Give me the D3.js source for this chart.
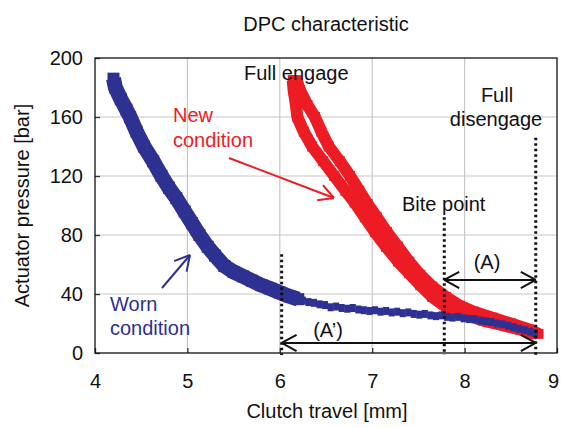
<!DOCTYPE html>
<html>
<head>
<meta charset="utf-8">
<script src="https://cdn.jsdelivr.net/npm/d3@7"></script>
<style>
  body { margin: 0; background: #fff; }
  text { font-family: "Liberation Sans", Arial, sans-serif; }
</style>
</head>
<body>
<script>
// axis ticks
var xTicks = [4, 5, 6, 7, 8, 9];
var yTicks = [0, 40, 80, 120, 160, 200];

// worn condition, steep part (clutch travel mm, pressure bar)
var wornX = [4.20, 4.22, 4.28, 4.34, 4.38, 4.45, 4.53, 4.63, 4.72, 4.80, 4.88, 4.97, 5.05, 5.13, 5.22, 5.30, 5.40, 5.50, 5.60, 5.70, 5.80, 5.90, 6.00, 6.10, 6.20];
var wornP = [186, 180, 172, 165, 160, 150, 140, 130, 120, 112, 105, 96, 88, 80, 72, 66, 59, 55, 52, 49, 46, 43.5, 41, 38.5, 36.5];

// worn condition, flat tail (single samples)
var wornTailX = [6.25, 6.31, 6.37, 6.43, 6.49, 6.55, 6.61, 6.67, 6.73, 6.79, 6.85, 6.91, 6.97, 7.03, 7.09, 7.15, 7.21, 7.27, 7.33, 7.39, 7.45, 7.51, 7.57, 7.63, 7.69, 7.75, 7.81, 7.87, 7.93, 7.99, 8.05, 8.11, 8.17, 8.23, 8.29, 8.35, 8.41, 8.47, 8.53, 8.59, 8.65, 8.71, 8.76];
var wornTailP = [35.5, 34.5, 34, 33, 32.5, 31, 31.5, 30.5, 30, 30.5, 29.5, 29, 28.5, 29, 28, 28.5, 27.5, 28, 27, 27.5, 26.5, 26, 26.5, 25.5, 25, 25.5, 24.5, 24, 24.5, 23.5, 23, 23, 22, 21.5, 21, 20, 19.5, 18.5, 17.5, 16.5, 15.5, 14.5, 13.5];

// new condition, two branches
var newAX = [6.14, 6.15, 6.17, 6.19, 6.26, 6.35, 6.47, 6.59, 6.71, 6.81, 6.92, 7.03, 7.15, 7.28, 7.40, 7.52, 7.65, 7.80, 8.00, 8.20, 8.40, 8.60, 8.76];
var newAP = [185, 178, 170, 160, 150, 140, 130, 120, 110, 102, 92, 82, 72, 62, 54, 46, 38, 31, 26, 22, 19, 16, 13];
var newBX = [6.18, 6.22, 6.30, 6.38, 6.45, 6.53, 6.65, 6.76, 6.86, 6.95, 7.05, 7.16, 7.28, 7.40, 7.52, 7.65, 7.80, 7.95, 8.10, 8.30, 8.50, 8.70, 8.80];
var newBP = [185, 178, 168, 160, 150, 140, 130, 120, 110, 101, 92, 82, 72, 62, 53, 45, 38, 32, 28, 24, 20, 16, 13];

// marker positions on the travel axis
var dotX = [6.02, 7.78, 8.77];
var dotTop = [67, 92, 146];

var blue = "#2e3192", red = "#ed1c24";

var margin = {top: 58, right: 4, bottom: 75, left: 95},
    width = 561 - margin.left - margin.right,
    height = 428 - margin.top - margin.bottom;

var svg = d3.select("body").append("svg")
    .attr("width", 561)
    .attr("height", 428);

var g = svg.append("g")
    .attr("transform", "translate(" + margin.left + "," + margin.top + ")");

var x = d3.scaleLinear().domain([4, 9]).range([0, width]);
var y = d3.scaleLinear().domain([0, 200]).range([height, 0]);

// grid
g.selectAll("line.gx").data(xTicks.slice(1, -1)).enter().append("line")
    .attr("x1", function(d) { return x(d); }).attr("x2", function(d) { return x(d); })
    .attr("y1", 0).attr("y2", height)
    .style("stroke", "#c8c8c8").style("stroke-width", 1.2);
g.selectAll("line.gy").data(yTicks.slice(1, -1)).enter().append("line")
    .attr("y1", function(d) { return y(d); }).attr("y2", function(d) { return y(d); })
    .attr("x1", 0).attr("x2", width)
    .style("stroke", "#c8c8c8").style("stroke-width", 1.2);

// axes
var xAxis = g.append("g")
    .attr("transform", "translate(0," + height + ")")
    .call(d3.axisBottom(x).tickValues(xTicks).tickSize(-5).tickPadding(21).tickFormat(d3.format("d")));
var yAxis = g.append("g")
    .call(d3.axisLeft(y).tickValues(yTicks).tickSize(-5).tickPadding(12).tickFormat(d3.format("d")));
[xAxis, yAxis].forEach(function(a) {
  a.select(".domain").remove();
  a.selectAll("text").style("font-size", "20px").style("fill", "#111")
    .style("font-family", "'Liberation Sans', Arial, sans-serif");
  a.selectAll("line").style("stroke", "#333").style("stroke-width", 1.3);
});
// last label sits at the page edge
xAxis.selectAll("text").filter(function(d) { return d === 9; }).attr("dx", -4);

var line = d3.line()
    .x(function(d) { return x(d[0]); })
    .y(function(d) { return y(d[1]); });

function zip(a, b) { return a.map(function(v, i) { return [v, b[i]]; }); }

var newA = zip(newAX, newAP), newB = zip(newBX, newBP);
var worn = zip(wornX, wornP), wornTail = zip(wornTailX, wornTailP);

// new condition bands
[newA, newB].forEach(function(s) {
  g.append("path").attr("d", line(s))
    .style("fill", "none").style("stroke", red)
    .style("stroke-width", 12).style("stroke-linejoin", "round");
  g.selectAll(null).data(s).enter().append("rect")
    .attr("x", function(d) { return x(d[0]) - 5; })
    .attr("y", function(d) { return y(d[1]) - 5; })
    .attr("width", 10).attr("height", 10)
    .style("fill", red);
});

// worn condition
g.append("path").attr("d", line(worn))
  .style("fill", "none").style("stroke", blue)
  .style("stroke-width", 15).style("stroke-linejoin", "round");
g.selectAll(null).data(worn).enter().append("rect")
  .attr("x", function(d) { return x(d[0]) - 6; })
  .attr("y", function(d) { return y(d[1]) - 6; })
  .attr("width", 12).attr("height", 12)
  .style("fill", blue);
g.selectAll(null).data(wornTail).enter().append("rect")
  .attr("x", function(d) { return x(d[0]) - 3; })
  .attr("y", function(d) { return y(d[1]) - 4; })
  .attr("width", 6).attr("height", 8)
  .style("fill", blue);

// frame
g.append("rect").attr("width", width).attr("height", height)
  .style("fill", "none").style("stroke", "#111").style("stroke-width", 1.3);

// dotted verticals
dotX.forEach(function(d, i) {
  g.append("line")
    .attr("x1", x(d)).attr("x2", x(d))
    .attr("y1", y(dotTop[i])).attr("y2", height + 2)
    .style("stroke", "#111").style("stroke-width", 3)
    .style("stroke-dasharray", "2.5,3");
});

// arrows
function head(tx, ty, ang, len, spread, color) {
  var p = [];
  [-spread, spread].forEach(function(s) {
    p.push("M" + (tx - len * Math.cos(ang - s)) + "," + (ty - len * Math.sin(ang - s)) + "L" + tx + "," + ty);
  });
  g.append("path").attr("d", p.join(""))
    .style("fill", "none").style("stroke", color).style("stroke-width", 2);
}
function arrow(x1, y1, x2, y2, color, both) {
  g.append("line").attr("x1", x1).attr("y1", y1).attr("x2", x2).attr("y2", y2)
    .style("stroke", color).style("stroke-width", 2);
  var a = Math.atan2(y2 - y1, x2 - x1);
  head(x2, y2, a, 17, 0.5, color);
  if (both) head(x1, y1, a + Math.PI, 17, 0.5, color);
}
arrow(x(dotX[1]), y(49.5), x(dotX[2]), y(49.5), "#111", true);
arrow(x(dotX[0]), y(6.8), x(dotX[2]), y(6.8), "#111", true);
arrow(229 - margin.left, 158 - margin.top, 334 - margin.left, 198 - margin.top, red, false);
arrow(162 - margin.left, 288 - margin.top, 190 - margin.left, 255 - margin.top, blue, false);

// labels
function label(t, px, py, color, anchor) {
  svg.append("text").attr("x", px).attr("y", py)
    .attr("text-anchor", anchor || "start")
    .style("font-size", "20px").style("fill", color || "#111")
    .text(t);
}
label("DPC characteristic", 326, 31, "#111", "middle");
label("Clutch travel [mm]", 327, 418, "#111", "middle");
svg.append("text")
  .attr("transform", "translate(29," + (margin.top + height / 2) + ") rotate(-90)")
  .attr("text-anchor", "middle").style("font-size", "20px").style("fill", "#111")
  .text("Actuator pressure [bar]");

label("Full engage", 244, 80);
label("New", 173, 122, red);
label("condition", 173, 147, red);
label("Worn", 110, 311, blue);
label("condition", 110, 335, blue);
label("Bite point", 402, 211);
label("Full", 497, 102, "#111", "middle");
label("disengage", 496, 126, "#111", "middle");
label("(A)", 487, 269, "#111", "middle");
label("(A\u2019)", 328, 337, "#111", "middle");
</script>
</body>
</html>
